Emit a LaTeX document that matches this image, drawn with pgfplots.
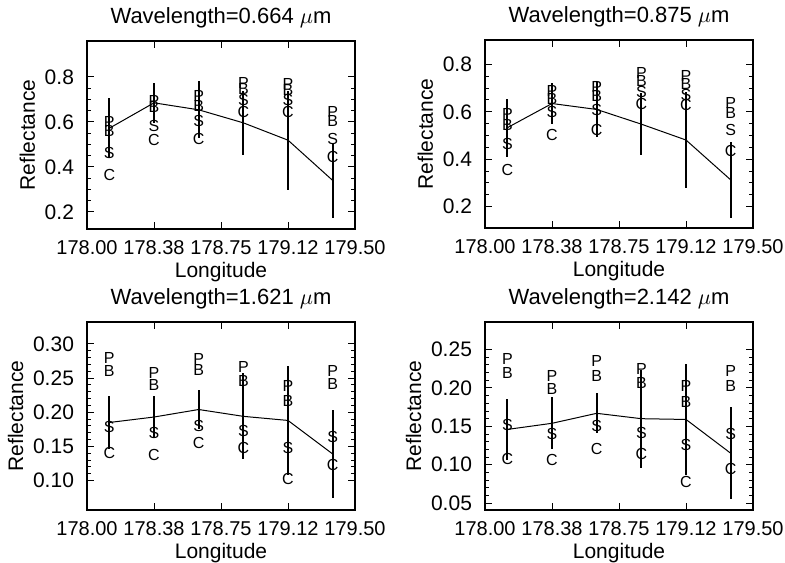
\documentclass[border=0pt]{standalone}
\usepackage{pgfplots}
\pgfplotsset{compat=1.18}
\usepackage{pgfplotstable}
\usepackage{fontspec}
\setmainfont{Liberation Sans}

\pgfplotstableread{
x y e P B S C
178.125 0.572 0.134 0.600 0.560 0.461 0.365
178.375 0.685 0.090 0.695 0.665 0.580 0.520
178.625 0.654 0.126 0.715 0.673 0.606 0.524
178.875 0.596 0.142 0.775 0.745 0.696 0.643
179.125 0.519 0.220 0.770 0.740 0.696 0.643
179.375 0.340 0.167 0.643 0.606 0.524 0.442
}\dataA
\pgfplotstableread{
x y e P B S C
178.125 0.533 0.123 0.589 0.544 0.464 0.355
178.375 0.635 0.087 0.688 0.652 0.600 0.502
178.625 0.610 0.115 0.705 0.666 0.607 0.523
178.875 0.548 0.130 0.764 0.730 0.684 0.632
179.125 0.481 0.203 0.750 0.719 0.670 0.628
179.375 0.313 0.161 0.638 0.596 0.523 0.436
}\dataB
\pgfplotstableread{
x y e P B S C
178.125 0.185 0.039 0.280 0.261 0.178 0.140
178.375 0.193 0.031 0.258 0.240 0.169 0.138
178.625 0.204 0.028 0.278 0.262 0.180 0.155
178.875 0.194 0.063 0.266 0.246 0.172 0.148
179.125 0.188 0.080 0.239 0.216 0.148 0.103
179.375 0.139 0.065 0.261 0.241 0.164 0.123
}\dataC
\pgfplotstableread{
x y e P B S C
178.125 0.146 0.040 0.238 0.219 0.152 0.107
178.375 0.154 0.034 0.215 0.199 0.140 0.106
178.625 0.167 0.026 0.235 0.216 0.150 0.120
178.875 0.160 0.064 0.225 0.206 0.142 0.114
179.125 0.159 0.072 0.202 0.182 0.126 0.078
179.375 0.115 0.060 0.222 0.202 0.140 0.094
}\dataD

\pgfplotsset{
  myax/.style={
    scale only axis, width=134pt, height=94pt,
    xmin=178, xmax=179.5,
    xtick={178,178.375,178.75,179.125,179.5},
    xticklabels={178.00,178.38,178.75,179.12,179.50},
    tick align=inside,
    major tick length=3.5pt, minor tick length=2pt,
    axis line style={line width=0.6pt},
    every tick/.style={black, line width=0.5pt},
    yticklabel style={font=\fontsize{10.5}{12}\selectfont, xshift=-3pt},
    xticklabel style={font=\fontsize{10}{12}\selectfont, yshift=-2pt},
    label style={font=\fontsize{10.5}{12}\selectfont},
    title style={font=\fontsize{11}{13}\selectfont, yshift=-3pt},
    xlabel={Longitude}, ylabel={Reflectance},
    /pgf/number format/assume math mode=true,
    /pgf/number format/fixed, /pgf/number format/fixed zerofill,
    xlabel style={yshift=3pt},
    ylabel style={yshift=-2pt},
  },
  lett/.style={only marks, mark=text, text mark={#1}, text mark as node=true,
    text mark style={font=\fontsize{8}{8}\selectfont, inner sep=0pt, black}},
}

\newcommand{\panel}[1]{%
  \addplot[black, line width=0.5pt, mark=none,
    error bars/.cd, y dir=both, y explicit, error mark=none,
    error bar style={line width=1pt}] table[x=x, y=y, y error=e] {#1};
  \addplot[lett=P] table[x=x, y=P] {#1};
  \addplot[lett=B] table[x=x, y=B] {#1};
  \addplot[lett=S] table[x=x, y=S] {#1};
  \addplot[lett=C] table[x=x, y=C] {#1};
}

\begin{document}
\begin{tikzpicture}
\useasboundingbox (0,0) rectangle (392.5pt,281pt);

\begin{axis}[myax, at={(43.5pt,166.5pt)}, anchor=south west,
  ymin=0.124, ymax=0.96, ytick={0.2,0.4,0.6,0.8}, minor y tick num=3,
  /pgf/number format/precision=1,
  title={Wavelength=0.664 $\mu$m}]
\panel{\dataA}
\end{axis}

\begin{axis}[myax, at={(242.5pt,167pt)}, anchor=south west,
  ymin=0.11, ymax=0.903, ytick={0.2,0.4,0.6,0.8}, minor y tick num=3,
  /pgf/number format/precision=1,
  title={Wavelength=0.875 $\mu$m}]
\panel{\dataB}
\end{axis}

\begin{axis}[myax, at={(43.5pt,26pt)}, anchor=south west,
  ymin=0.057, ymax=0.332, ytick={0.10,0.15,0.20,0.25,0.30}, minor y tick num=4,
  /pgf/number format/precision=2,
  title={Wavelength=1.621 $\mu$m}]
\panel{\dataC}
\end{axis}

\begin{axis}[myax, at={(242.5pt,26pt)}, anchor=south west,
  ymin=0.041, ymax=0.286, ytick={0.05,0.10,0.15,0.20,0.25}, minor y tick num=4,
  /pgf/number format/precision=2,
  title={Wavelength=2.142 $\mu$m}]
\panel{\dataD}
\end{axis}
\end{tikzpicture}
\end{document}
